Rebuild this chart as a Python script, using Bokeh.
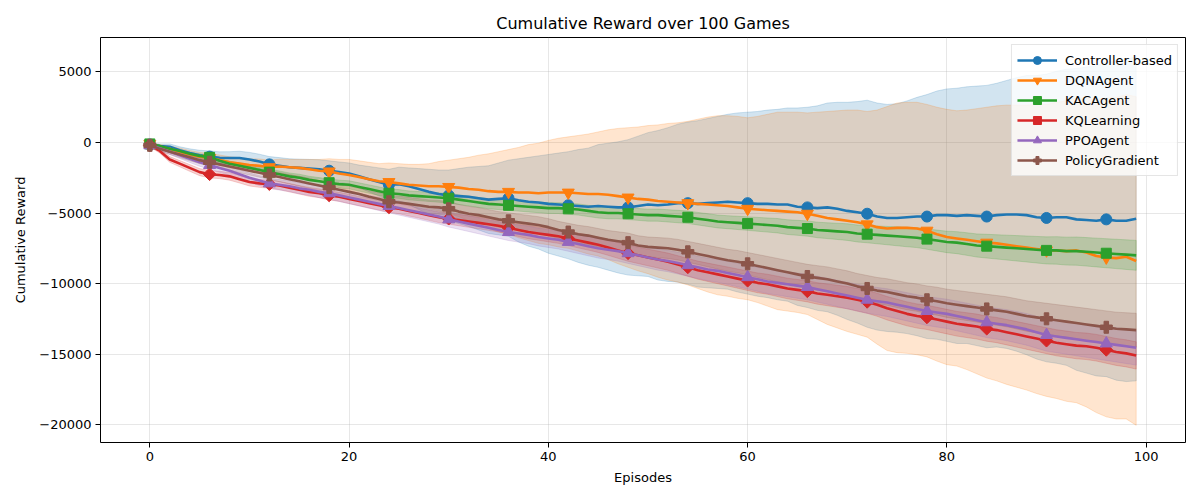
import math
from bokeh.plotting import figure
from bokeh.models import FixedTicker, Range1d
from bokeh.embed import file_html
from bokeh.resources import INLINE

# ---- data: mean cumulative reward and its spread per episode ----
episodes = list(range(100))

controller_mean = [
    -150, -250, -300, -550, -750, -900, -1000, -1080, -1100, -1100,
    -1200, -1350, -1550, -1650, -1750, -1800, -1850, -1900, -2000, -2100,
    -2200, -2400, -2600, -2800, -3000, -2950, -3100, -3300, -3500, -3650,
    -3750, -3800, -3850, -3950, -4050, -4000, -3950, -4100, -4200, -4250,
    -4350, -4400, -4450, -4500, -4550, -4500, -4550, -4600, -4600, -4500,
    -4400, -4450, -4400, -4300, -4300, -4350, -4300, -4250, -4200, -4250,
    -4300, -4350, -4350, -4400, -4400, -4550, -4600, -4650, -4600, -4700,
    -4850, -4950, -5050, -5250, -5350, -5350, -5300, -5250, -5250, -5150,
    -5150, -5200, -5150, -5200, -5250, -5150, -5100, -5100, -5150, -5300,
    -5350, -5300, -5300, -5450, -5500, -5550, -5450, -5550, -5550, -5400]
controller_std = [
    100, 150, 200, 250, 300, 350, 400, 420, 450, 480,
    500, 520, 550, 580, 600, 620, 650, 680, 700, 720,
    750, 800, 900, 1000, 1100, 1200, 1300, 1450, 1600, 1700,
    1800, 1950, 2100, 2250, 2400, 2550, 2700, 2950, 3150, 3300,
    3500, 3650, 3800, 4000, 4150, 4350, 4500, 4650, 4800, 4950,
    5100, 5300, 5450, 5600, 5750, 5900, 6000, 6100, 6200, 6350,
    6450, 6550, 6650, 6750, 6850, 7000, 7100, 7250, 7400, 7550,
    7700, 7850, 8050, 8050, 8050, 8100, 8250, 8450, 8650, 8800,
    8950, 9050, 9100, 9200, 9300, 9350, 9500, 9700, 9900, 10050,
    10200, 10350, 10500, 10700, 10850, 11000, 11150, 11300, 11400, 11500]

dqn_mean = [
    -100, -300, -450, -650, -850, -1000, -1100, -1250, -1400, -1500,
    -1600, -1650, -1750, -1700, -1750, -1800, -1900, -2000, -2050, -2200,
    -2300, -2450, -2600, -2750, -2800, -2900, -3000, -3050, -3100, -3100,
    -3150, -3200, -3300, -3350, -3450, -3500, -3500, -3550, -3550, -3600,
    -3550, -3550, -3550, -3600, -3650, -3650, -3700, -3800, -3900, -4000,
    -4050, -4150, -4200, -4250, -4300, -4350, -4400, -4450, -4500, -4600,
    -4700, -4750, -4800, -4850, -4900, -4950, -5050, -5200, -5350, -5450,
    -5550, -5650, -5800, -6000, -6100, -6050, -6050, -6100, -6250, -6500,
    -6700, -6800, -6900, -7000, -7100, -7150, -7250, -7350, -7450, -7550,
    -7650, -7650, -7700, -7650, -7800, -8050, -8150, -8200, -8100, -8400]
dqn_std = [
    100, 150, 200, 250, 280, 300, 330, 360, 390, 420,
    450, 480, 500, 520, 550, 600, 700, 800, 900, 1000,
    1100, 1150, 1200, 1250, 1350, 1400, 1450, 1500, 1600, 1750,
    1900, 2050, 2250, 2450, 2650, 2850, 3000, 3200, 3400, 3550,
    3700, 3850, 3950, 4100, 4250, 4400, 4600, 4800, 4950, 5100,
    5250, 5400, 5550, 5650, 5800, 6000, 6200, 6350, 6400, 6450,
    6450, 6600, 6800, 7000, 7050, 7100, 7150, 7350, 7550, 7700,
    7850, 7950, 8000, 8300, 8650, 8850, 8900, 8950, 8950, 9000,
    9050, 9050, 9200, 9400, 9600, 9750, 9900, 10000, 10100, 10250,
    10350, 10500, 10650, 10800, 10950, 11100, 11300, 11400, 11500, 11650]

kac_mean = [
    -100, -250, -450, -600, -800, -950, -1050, -1300, -1500, -1650,
    -1800, -1950, -2100, -2250, -2400, -2500, -2650, -2750, -2850, -2950,
    -3000, -3150, -3300, -3450, -3600, -3650, -3750, -3800, -3850, -3900,
    -3950, -4050, -4150, -4250, -4350, -4400, -4450, -4500, -4550, -4600,
    -4650, -4650, -4700, -4750, -4850, -4950, -5000, -5000, -5050, -5100,
    -5150, -5150, -5200, -5250, -5300, -5400, -5500, -5600, -5650, -5700,
    -5750, -5800, -5850, -5900, -6000, -6050, -6100, -6200, -6250, -6300,
    -6350, -6450, -6500, -6550, -6600, -6650, -6700, -6750, -6850, -6950,
    -7050, -7100, -7200, -7300, -7350, -7400, -7450, -7500, -7550, -7600,
    -7650, -7650, -7700, -7700, -7750, -7800, -7850, -7900, -7950, -8000]
kac_std = [
    50, 70, 90, 110, 130, 150, 160, 170, 180, 190,
    200, 210, 220, 230, 240, 250, 255, 260, 270, 280,
    285, 290, 295, 300, 305, 310, 315, 320, 325, 330,
    335, 340, 345, 350, 350, 355, 360, 365, 370, 375,
    380, 385, 390, 395, 400, 400, 405, 410, 415, 420,
    425, 430, 435, 440, 440, 445, 450, 455, 460, 470,
    480, 490, 500, 510, 520, 530, 540, 550, 560, 575,
    590, 600, 610, 630, 650, 670, 690, 700, 720, 740,
    760, 780, 800, 820, 840, 860, 880, 900, 920, 940,
    960, 975, 990, 1000, 1010, 1020, 1030, 1040, 1050, 1060]

kq_mean = [
    -200, -600, -1200, -1500, -1800, -2100, -2250, -2300, -2400, -2600,
    -2800, -2900, -2950, -3050, -3200, -3350, -3500, -3600, -3750, -3850,
    -4000, -4150, -4300, -4450, -4600, -4700, -4850, -5000, -5150, -5300,
    -5400, -5500, -5600, -5700, -5800, -5900, -6050, -6200, -6350, -6450,
    -6550, -6650, -6800, -6950, -7100, -7250, -7450, -7650, -7850, -8000,
    -8150, -8300, -8450, -8650, -8850, -9050, -9200, -9350, -9500, -9650,
    -9800, -9950, -10050, -10200, -10350, -10450, -10550, -10700, -10800, -10900,
    -11000, -11150, -11300, -11500, -11750, -11950, -12150, -12300, -12400, -12550,
    -12700, -12850, -12950, -13050, -13200, -13300, -13450, -13600, -13750, -13900,
    -14050, -14200, -14300, -14400, -14450, -14550, -14700, -14850, -14950, -15100]
kq_std = [
    100, 150, 200, 220, 240, 250, 260, 260, 270, 270,
    280, 280, 290, 290, 300, 300, 310, 310, 320, 320,
    330, 330, 340, 340, 350, 350, 360, 360, 370, 380,
    390, 400, 410, 420, 430, 440, 450, 460, 470, 480,
    490, 500, 510, 520, 530, 540, 550, 560, 570, 580,
    590, 600, 610, 620, 630, 640, 650, 660, 670, 680,
    690, 700, 710, 720, 730, 740, 750, 760, 770, 780,
    790, 800, 810, 820, 830, 840, 850, 855, 860, 865,
    870, 875, 880, 885, 890, 895, 900, 905, 910, 915,
    920, 925, 930, 935, 940, 945, 950, 955, 960, 965]

ppo_mean = [
    -200, -400, -650, -900, -1150, -1400, -1600, -1800, -2000, -2250,
    -2500, -2700, -2900, -3000, -3100, -3250, -3350, -3500, -3600, -3750,
    -3900, -4050, -4200, -4350, -4500, -4650, -4800, -4950, -5100, -5250,
    -5450, -5600, -5750, -5900, -6050, -6200, -6350, -6450, -6550, -6700,
    -6800, -6900, -7050, -7200, -7350, -7500, -7600, -7700, -7850, -8000,
    -8150, -8300, -8400, -8550, -8700, -8850, -9000, -9100, -9250, -9400,
    -9550, -9700, -9850, -9950, -10050, -10150, -10250, -10400, -10550, -10700,
    -10850, -11000, -11150, -11250, -11350, -11500, -11650, -11800, -11950, -12050,
    -12150, -12300, -12450, -12600, -12750, -12850, -12950, -13100, -13250, -13450,
    -13650, -13750, -13850, -13950, -14050, -14150, -14250, -14350, -14450, -14550]
ppo_std = [
    100, 150, 200, 230, 260, 280, 300, 310, 320, 330,
    340, 350, 360, 370, 380, 390, 400, 410, 420, 430,
    440, 450, 460, 470, 480, 490, 500, 510, 520, 530,
    540, 550, 560, 570, 580, 590, 600, 610, 620, 630,
    640, 650, 660, 670, 680, 690, 700, 710, 720, 730,
    740, 750, 760, 770, 780, 790, 800, 810, 820, 830,
    840, 850, 860, 870, 880, 890, 900, 910, 920, 930,
    940, 950, 960, 970, 980, 990, 1000, 1010, 1020, 1030,
    1040, 1050, 1060, 1070, 1080, 1090, 1100, 1110, 1120, 1130,
    1140, 1150, 1160, 1170, 1180, 1190, 1200, 1210, 1220, 1230]

pg_mean = [
    -200, -450, -650, -850, -1050, -1250, -1400, -1550, -1700, -1850,
    -2000, -2150, -2300, -2450, -2600, -2750, -2900, -3050, -3200, -3350,
    -3500, -3650, -3850, -4000, -4200, -4250, -4350, -4450, -4550, -4600,
    -4700, -4900, -5050, -5150, -5300, -5450, -5550, -5650, -5750, -5850,
    -6000, -6200, -6350, -6500, -6600, -6750, -6900, -7000, -7100, -7300,
    -7400, -7450, -7500, -7600, -7750, -7900, -8050, -8200, -8350, -8450,
    -8600, -8750, -8900, -9050, -9200, -9350, -9500, -9600, -9700, -9850,
    -10000, -10200, -10350, -10500, -10600, -10750, -10900, -11000, -11150, -11250,
    -11400, -11500, -11600, -11700, -11800, -11900, -12000, -12150, -12300, -12400,
    -12500, -12600, -12700, -12800, -12900, -13000, -13100, -13200, -13250, -13300]
pg_std = [
    100, 150, 200, 220, 240, 250, 260, 270, 280, 290,
    300, 310, 320, 330, 340, 350, 360, 370, 380, 390,
    400, 410, 420, 430, 440, 450, 460, 470, 480, 490,
    500, 510, 520, 530, 540, 550, 560, 570, 580, 590,
    600, 610, 620, 630, 640, 650, 660, 670, 680, 690,
    700, 710, 720, 730, 740, 750, 760, 770, 780, 790,
    800, 810, 820, 830, 840, 850, 860, 870, 880, 890,
    900, 910, 920, 930, 940, 950, 960, 970, 980, 990,
    1000, 1010, 1020, 1030, 1040, 1050, 1060, 1070, 1080, 1090,
    1100, 1110, 1120, 1130, 1140, 1150, 1160, 1170, 1180, 1190]

agent_names = ["Controller-based", "DQNAgent", "KACAgent", "KQLearning", "PPOAgent", "PolicyGradient"]
agent_means = [controller_mean, dqn_mean, kac_mean, kq_mean, ppo_mean, pg_mean]
agent_stds = [controller_std, dqn_std, kac_std, kq_std, ppo_std, pg_std]

x_ticks = [0, 20, 40, 60, 80, 100]
y_ticks = [-20000, -15000, -10000, -5000, 0, 5000]
y_tick_labels = ["\u221220000", "\u221215000", "\u221210000", "\u22125000", "0", "5000"]

# ---- styling ----
colors = ["#1f77b4", "#ff7f0e", "#2ca02c", "#d62728", "#9467bd", "#8c564b"]
markers = ["circle", "inverted_triangle", "square", "square", "triangle", "plus"]
marker_sizes = [11, 12, 10, 9, 12, 12]
marker_angles = [0, 0, 0, math.pi / 4, 0, 0]
FONT = "DejaVu Sans"
MARK_EVERY = 6

p = figure(
    width=1200, height=500,
    output_backend="svg", toolbar_location=None,
    x_range=Range1d(-4.95, 103.95), y_range=Range1d(-21270, 7445),
    min_border_left=100, min_border_right=15,
    min_border_top=37, min_border_bottom=58,
    title="Cumulative Reward over 100 Games",
)
p.title.align = "center"
p.title.text_font = FONT
p.title.text_font_size = "16px"
p.title.text_font_style = "normal"
p.title.text_color = "black"

p.background_fill_color = "white"
p.border_fill_color = "white"
p.outline_line_color = "black"
p.outline_line_width = 1
p.outline_line_alpha = 1

# spread bands first, then the mean lines on top
for name, mean, std, c in zip(agent_names, agent_means, agent_stds, colors):
    upper = [m + s for m, s in zip(mean, std)]
    lower = [m - s for m, s in zip(mean, std)]
    p.patch(episodes + episodes[::-1], upper + lower[::-1],
            fill_color=c, fill_alpha=0.2, line_color=c, line_alpha=0.2, line_width=1)

for name, mean, c, mk, ms, ang in zip(agent_names, agent_means, colors, markers, marker_sizes, marker_angles):
    p.line(episodes, mean, line_color=c, line_width=2.6, legend_label=name)
    p.scatter(episodes[::MARK_EVERY], mean[::MARK_EVERY], marker=mk, size=ms, angle=ang,
              fill_color=c, line_color=c, legend_label=name)

# axes
p.xaxis.ticker = FixedTicker(ticks=x_ticks)
p.yaxis.ticker = FixedTicker(ticks=y_ticks)
p.yaxis.major_label_overrides = dict(zip(y_ticks, y_tick_labels))
p.xaxis.axis_label = "Episodes"
p.yaxis.axis_label = "Cumulative Reward"
for ax in (p.xaxis, p.yaxis):
    ax.axis_label_text_font = FONT
    ax.axis_label_text_font_size = "13px"
    ax.axis_label_text_font_style = "normal"
    ax.axis_label_text_color = "black"
    ax.major_label_text_font = FONT
    ax.major_label_text_font_size = "13px"
    ax.major_label_text_color = "black"
    ax.axis_line_color = None
    ax.major_tick_line_color = "black"
    ax.major_tick_out = 5
    ax.major_tick_in = 0
    ax.minor_tick_line_color = None
    ax.major_label_standoff = 4
p.xaxis.axis_label_standoff = 6
p.yaxis.axis_label_standoff = 8

p.grid.grid_line_color = "#b0b0b0"
p.grid.grid_line_alpha = 0.3
p.grid.grid_line_width = 1

# legend
lg = p.legend[0]
lg.location = "top_right"
lg.label_text_font = FONT
lg.label_text_font_size = "13px"
lg.label_text_color = "black"
lg.glyph_width = 40
lg.glyph_height = 20
lg.label_height = 20
lg.label_standoff = 8
lg.spacing = 0
lg.padding = 5
lg.margin = 7
lg.border_line_color = "#cccccc"
lg.border_line_width = 1
lg.background_fill_alpha = 0.8

open("out.html", "w").write(file_html(p, INLINE))
